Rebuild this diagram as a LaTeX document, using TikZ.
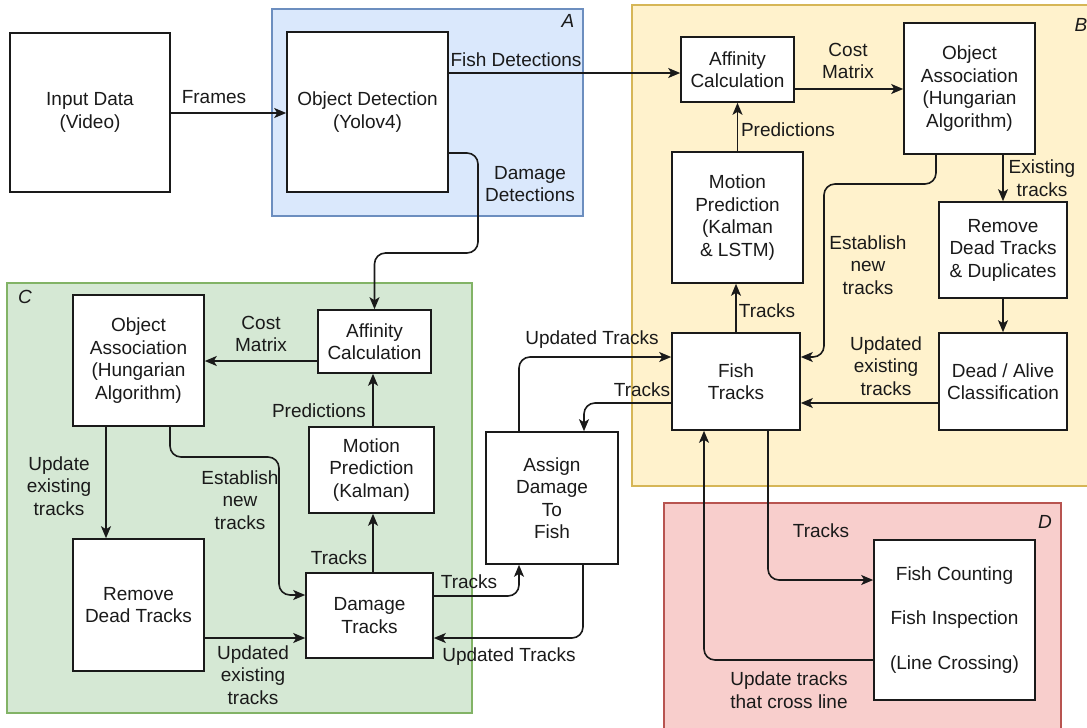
\documentclass[tikz,border=0pt]{standalone}
\usepackage{fontspec}
\setmainfont{Liberation Sans}
\usetikzlibrary{arrows.meta}
\definecolor{blueF}{HTML}{DAE8FC}
\definecolor{blueD}{HTML}{6C8EBF}
\definecolor{yelF}{HTML}{FFF2CC}
\definecolor{yelD}{HTML}{D6B656}
\definecolor{grnF}{HTML}{D5E8D4}
\definecolor{grnD}{HTML}{82B366}
\definecolor{redF}{HTML}{F8CECC}
\definecolor{redD}{HTML}{B85450}
\definecolor{ink}{HTML}{1A1A1A}
\begin{document}
\begin{tikzpicture}[x=1pt,y=-1pt,
  every node/.style={font=\fontsize{19}{22.5}\selectfont, text=ink},
  blk/.style={draw=ink, line width=1.6pt, fill=white, align=center, inner sep=0pt},
  region/.style={line width=1.6pt},
  arr/.style={draw=ink, line width=1.6pt, -{Stealth[length=12pt,width=10pt,inset=3pt]}, rounded corners=11pt},
  lbl/.style={align=center, inner sep=0pt},
  tag/.style={inner sep=0pt, font=\fontsize{19}{22.5}\selectfont\itshape}
]
\clip (0,0) rectangle (1087,728);
\fill[white] (0,0) rectangle (1087,728);

% processing stages
\draw[region, fill=blueF, draw=blueD] (272,9) rectangle (583,216);
\draw[region, fill=yelF, draw=yelD] (632,5) rectangle (1095,486);
\draw[region, fill=grnF, draw=grnD] (7,283) rectangle (472,713);
\draw[region, fill=redF, draw=redD] (664,503) rectangle (1061,740);
\node[tag] (tagA) at (568,21) {A};
\node[tag] (tagB) at (1081,25) {B};
\node[tag] (tagC) at (25,297) {C};
\node[tag] (tagD) at (1045,522) {D};

% blocks
\node[blk, minimum width=160pt, minimum height=159pt] (input) at (90,112.5) {Input Data\\(Video)};
\node[blk, minimum width=161pt, minimum height=160pt] (objdet) at (367.5,112) {Object Detection\\(Yolov4)};

\node[blk, minimum width=113pt, minimum height=65pt] (affB) at (737.5,69.5) {Affinity\\Calculation};
\node[blk, minimum width=131pt, minimum height=131pt] (assocB) at (969.5,88.5) {Object\\Association\\(Hungarian\\Algorithm)};
\node[blk, minimum width=131pt, minimum height=131pt] (motionB) at (737.5,217.5) {Motion\\Prediction\\(Kalman\\\& LSTM)};
\node[blk, minimum width=128pt, minimum height=97pt] (fishtracks) at (736,381.5) {Fish\\Tracks};
\node[blk, minimum width=128pt, minimum height=96pt] (removeB) at (1003,250) {Remove\\Dead Tracks\\\& Duplicates};
\node[blk, minimum width=128pt, minimum height=97pt] (deadalive) at (1003,381.5) {Dead / Alive\\Classification};

\node[blk, minimum width=131pt, minimum height=131pt] (assocC) at (138.5,360.5) {Object\\Association\\(Hungarian\\Algorithm)};
\node[blk, minimum width=113pt, minimum height=63pt] (affC) at (374.5,341.5) {Affinity\\Calculation};
\node[blk, minimum width=125pt, minimum height=86pt] (motionC) at (371.5,470) {Motion\\Prediction\\(Kalman)};
\node[blk, minimum width=127pt, minimum height=85pt] (dmgtracks) at (369.5,615.5) {Damage\\Tracks};
\node[blk, minimum width=131pt, minimum height=132pt] (removeC) at (138.5,605) {Remove\\Dead Tracks};

\node[blk, minimum width=132pt, minimum height=132pt] (assign) at (552,498) {Assign\\Damage\\To\\Fish};
\node[blk, minimum width=161pt, minimum height=160pt] (counting) at (954.5,620) {Fish Counting\\[22pt]Fish Inspection\\[22pt](Line Crossing)};

% connectors
\draw[arr] (input.east |- 0,113) -- (objdet.west |- 0,113);
\draw[arr] (objdet.east |- 0,73) -- (affB.west |- 0,73);
\draw[arr] (objdet.east |- 0,153) -- (478,153) -- (478,253) -- (affC.north |- 0,253) -- (affC.north);
\draw[arr] (affB.east |- 0,89) -- (assocB.west |- 0,89);
\draw[arr] (motionB.north) -- (affB.south);
\draw[arr] (fishtracks.north) -- (fishtracks.north |- motionB.south);
\draw[arr] (assocB.south -| 936,0) -- (936,184) -- (824,184) -- (824,357) -- (fishtracks.east |- 0,357);
\draw[arr] (removeB.north |- assocB.south) -- (removeB.north);
\draw[arr] (removeB.south) -- (deadalive.north);
\draw[arr] (deadalive.west |- 0,403) -- (fishtracks.east |- 0,403);
\draw[arr] (assign.north -| 519,0) -- (519,357) -- (fishtracks.west |- 0,357);
\draw[arr] (fishtracks.west |- 0,403) -- (584,403) -- (assign.north -| 584,0);
\draw[arr] (dmgtracks.east |- 0,596) -- (519,596) -- (assign.south -| 519,0);
\draw[arr] (assign.south -| 583,0) -- (583,638) -- (dmgtracks.east |- 0,638);
\draw[arr] (fishtracks.south -| 768,0) -- (768,580) -- (counting.west |- 0,580);
\draw[arr] (counting.west |- 0,660) -- (704,660) -- (fishtracks.south -| 704,0);
\draw[arr] (affC.west |- 0,361) -- (assocC.east |- 0,361);
\draw[arr] (motionC.north -| 373,0) -- (affC.south -| 373,0);
\draw[arr] (dmgtracks.north -| 373,0) -- (motionC.south -| 373,0);
\draw[arr] (assocC.south -| 106,0) -- (removeC.north -| 106,0);
\draw[arr] (assocC.south -| 170,0) -- (170,457) -- (279,457) -- (279,595) -- (dmgtracks.west |- 0,595);
\draw[arr] (removeC.east |- 0,638) -- (dmgtracks.west |- 0,638);

% connector labels
\node[lbl] (lFrames) at (214,97) {Frames};
\node[lbl] (lFishDet) at (516,60) {Fish Detections};
\node[lbl] (lDmgDet) at (530,184) {Damage\\Detections};
\node[lbl] (lCostB) at (848,61) {Cost\\Matrix};
\node[lbl] (lPredB) at (788,130) {Predictions};
\node[lbl] (lTracksB) at (767,311) {Tracks};
\node[lbl] (lNewB) at (868,265) {Establish\\new\\tracks};
\node[lbl] (lExist) at (1042,178) {Existing\\tracks};
\node[lbl] (lUpdB) at (886,366) {Updated\\existing\\tracks};
\node[lbl] (lUpdT1) at (592,340) {Updated Tracks};
\node[lbl] (lTr1) at (642,390) {Tracks};
\node[lbl] (lTr2) at (469,582) {Tracks};
\node[lbl] (lUpdT2) at (509,657) {Updated Tracks};
\node[lbl] (lTr3) at (821,531) {Tracks};
\node[lbl] (lCross) at (789,690) {Update tracks\\that cross line};
\node[lbl] (lCostC) at (261,334) {Cost\\Matrix};
\node[lbl] (lPredC) at (319,411) {Predictions};
\node[lbl] (lTracksC) at (339,558) {Tracks};
\node[lbl] (lUpdEx) at (59,486) {Update\\existing\\tracks};
\node[lbl] (lNewC) at (240,500) {Establish\\new\\tracks};
\node[lbl] (lUpdC) at (253,675) {Updated\\existing\\tracks};
\end{tikzpicture}
\end{document}
